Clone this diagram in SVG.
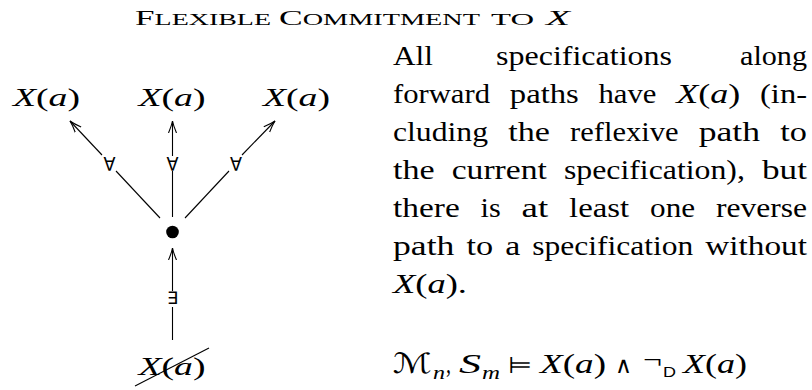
<svg xmlns="http://www.w3.org/2000/svg" width="812" height="390" viewBox="0 0 812 390">
<style>
.t{font-family:"Liberation Serif","Times New Roman",serif;fill:#000}
.b{font-size:27px}
.i{font-style:italic}
.sym{font-family:"DejaVu Sans",sans-serif;fill:#000}
.ln{stroke:#000;stroke-width:1.1;fill:none}
</style>
<defs>
<marker id="ah" markerUnits="userSpaceOnUse" viewBox="0 0 14 10" markerWidth="14" markerHeight="10" refX="12" refY="5" orient="auto">
<path d="M0,1 Q7,4 12,5 Q7,6 0,9" fill="none" stroke="#000" stroke-width="1.1"/>
</marker>
</defs>
<rect width="812" height="390" fill="#fff"/>

<g id="title" class="t">
<text x="135" y="25" textLength="136" lengthAdjust="spacingAndGlyphs"><tspan font-size="22">F</tspan><tspan font-size="17.5">LEXIBLE</tspan></text>
<text x="279" y="25" textLength="201" lengthAdjust="spacingAndGlyphs"><tspan font-size="22">C</tspan><tspan font-size="17.5">OMMITMENT</tspan></text>
<text x="491" y="25" textLength="43" lengthAdjust="spacingAndGlyphs" font-size="17.5">TO</text>
<text x="546" y="25" textLength="24" lengthAdjust="spacingAndGlyphs" font-size="22" class="i">X</text>
</g>

<g id="connectors">
<line class="ln" x1="102" y1="155" x2="70" y2="121" marker-end="url(#ah)"/>
<line class="ln" x1="116" y1="171" x2="160" y2="218"/>
<line class="ln" x1="172.5" y1="156" x2="172.5" y2="121" marker-end="url(#ah)"/>
<line class="ln" x1="172.5" y1="171" x2="172.5" y2="217"/>
<line class="ln" x1="242" y1="155" x2="275" y2="121" marker-end="url(#ah)"/>
<line class="ln" x1="229" y1="171" x2="185" y2="218"/>
<line class="ln" x1="172.5" y1="291" x2="172.5" y2="248" marker-end="url(#ah)"/>
<line class="ln" x1="172.5" y1="307" x2="172.5" y2="340"/>
<text class="sym" x="103.5" y="170.5" font-size="19" textLength="12" lengthAdjust="spacingAndGlyphs">∀</text>
<text class="sym" x="166.5" y="170.5" font-size="19" textLength="12" lengthAdjust="spacingAndGlyphs">∀</text>
<text class="sym" x="230" y="170.5" font-size="19" textLength="12" lengthAdjust="spacingAndGlyphs">∀</text>
<text class="sym" x="167" y="304" font-size="17" textLength="11" lengthAdjust="spacingAndGlyphs">∃</text>
</g>

<g id="n-left" class="t"><text x="13" y="106" font-size="26" textLength="67" lengthAdjust="spacingAndGlyphs"><tspan class="i">X</tspan>(<tspan class="i">a</tspan>)</text></g>
<g id="n-mid" class="t"><text x="138.5" y="106" font-size="26" textLength="67" lengthAdjust="spacingAndGlyphs"><tspan class="i">X</tspan>(<tspan class="i">a</tspan>)</text></g>
<g id="n-right" class="t"><text x="263" y="106" font-size="26" textLength="67" lengthAdjust="spacingAndGlyphs"><tspan class="i">X</tspan>(<tspan class="i">a</tspan>)</text></g>
<g id="n-current"><circle cx="172.5" cy="232" r="6.3" fill="#000"/></g>
<g id="n-reverse" class="t"><text x="138.5" y="375" font-size="26" textLength="67" lengthAdjust="spacingAndGlyphs"><tspan class="i">X</tspan>(<tspan class="i">a</tspan>)</text>
<line class="ln" x1="135" y1="386" x2="209" y2="348" stroke-width="1"/></g>

<g id="para" class="t b">
<text x="393" y="65" textLength="40" lengthAdjust="spacingAndGlyphs">All</text>
<text x="496" y="65" textLength="176" lengthAdjust="spacingAndGlyphs">specifications</text>
<text x="740" y="65" textLength="67" lengthAdjust="spacingAndGlyphs">along</text>

<text x="393" y="103" textLength="97" lengthAdjust="spacingAndGlyphs">forward</text>
<text x="509.8" y="103" textLength="69" lengthAdjust="spacingAndGlyphs">paths</text>
<text x="598.5" y="103" textLength="58" lengthAdjust="spacingAndGlyphs">have</text>
<text x="676.3" y="103" textLength="64" lengthAdjust="spacingAndGlyphs"><tspan class="i">X</tspan>(<tspan class="i">a</tspan>)</text>
<text x="760" y="103" textLength="47" lengthAdjust="spacingAndGlyphs">(in-</text>

<text x="393" y="141" textLength="95" lengthAdjust="spacingAndGlyphs">cluding</text>
<text x="508.2" y="141" textLength="41.7" lengthAdjust="spacingAndGlyphs">the</text>
<text x="570.1" y="141" textLength="108.4" lengthAdjust="spacingAndGlyphs">reflexive</text>
<text x="698.7" y="141" textLength="61.4" lengthAdjust="spacingAndGlyphs">path</text>
<text x="780.3" y="141" textLength="26.7" lengthAdjust="spacingAndGlyphs">to</text>

<text x="393" y="179" textLength="41.7" lengthAdjust="spacingAndGlyphs">the</text>
<text x="451.7" y="179" textLength="95.2" lengthAdjust="spacingAndGlyphs">current</text>
<text x="563.9" y="179" textLength="181" lengthAdjust="spacingAndGlyphs">specification),</text>
<text x="762" y="179" textLength="45" lengthAdjust="spacingAndGlyphs">but</text>

<text x="393" y="217" textLength="66.7" lengthAdjust="spacingAndGlyphs">there</text>
<text x="480.6" y="217" textLength="20.2" lengthAdjust="spacingAndGlyphs">is</text>
<text x="521.6" y="217" textLength="26.7" lengthAdjust="spacingAndGlyphs">at</text>
<text x="569.1" y="217" textLength="60.1" lengthAdjust="spacingAndGlyphs">least</text>
<text x="650.1" y="217" textLength="45" lengthAdjust="spacingAndGlyphs">one</text>
<text x="715.9" y="217" textLength="91.1" lengthAdjust="spacingAndGlyphs">reverse</text>

<text x="393" y="255" textLength="61.4" lengthAdjust="spacingAndGlyphs">path</text>
<text x="466.5" y="255" textLength="26.7" lengthAdjust="spacingAndGlyphs">to</text>
<text x="505.2" y="255" textLength="15" lengthAdjust="spacingAndGlyphs">a</text>
<text x="532.3" y="255" textLength="161" lengthAdjust="spacingAndGlyphs">specification</text>
<text x="705.3" y="255" textLength="101.7" lengthAdjust="spacingAndGlyphs">without</text>

<text x="393" y="293" textLength="74" lengthAdjust="spacingAndGlyphs"><tspan class="i">X</tspan>(<tspan class="i">a</tspan>).</text>
</g>

<g id="formula" class="t">
<text x="393" y="373" font-size="28" font-family="DejaVu Serif, DejaVu Sans, serif" textLength="39" lengthAdjust="spacingAndGlyphs">ℳ</text>
<text x="433" y="379" font-size="18" class="i" textLength="12" lengthAdjust="spacingAndGlyphs">n</text>
<text x="446" y="373" font-size="27" textLength="5" lengthAdjust="spacingAndGlyphs">,</text>
<text x="459" y="373" font-size="27" class="i" textLength="22" lengthAdjust="spacingAndGlyphs">S</text>
<text x="482" y="379" font-size="18" class="i" textLength="18" lengthAdjust="spacingAndGlyphs">m</text>
<text x="508" y="373" font-size="23" class="sym" textLength="24" lengthAdjust="spacingAndGlyphs">⊨</text>
<text x="540" y="373" font-size="27" textLength="66" lengthAdjust="spacingAndGlyphs"><tspan class="i">X</tspan>(<tspan class="i">a</tspan>)</text>
<text x="615" y="373" font-size="23" class="sym" textLength="17" lengthAdjust="spacingAndGlyphs">∧</text>
<text x="643" y="369" font-size="27" textLength="19" lengthAdjust="spacingAndGlyphs">¬</text>
<text x="663" y="377" font-size="14" font-family="Liberation Sans, Arial, sans-serif" textLength="13" lengthAdjust="spacingAndGlyphs">D</text>
<text x="683" y="373" font-size="27" textLength="64" lengthAdjust="spacingAndGlyphs"><tspan class="i">X</tspan>(<tspan class="i">a</tspan>)</text>
</g>
</svg>
